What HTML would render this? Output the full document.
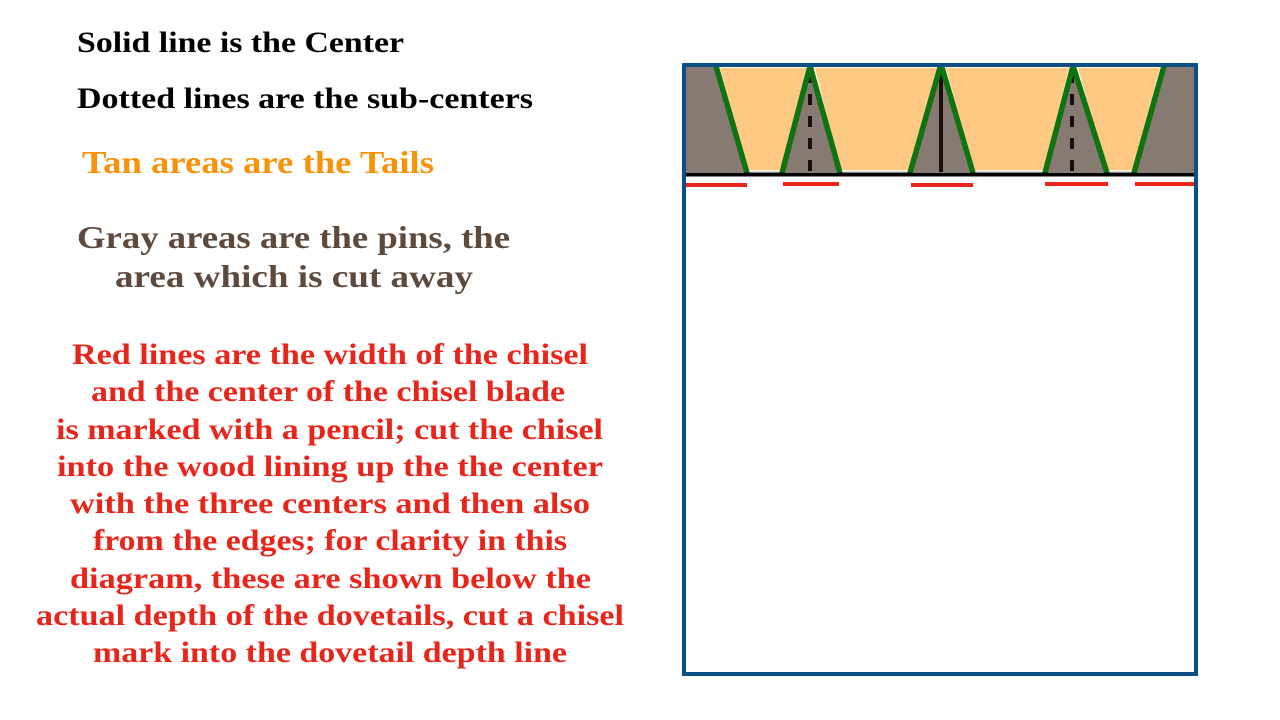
<!DOCTYPE html>
<html><head><style>html,body{margin:0;padding:0;background:#fff}svg{display:block}</style></head>
<body>
<svg width="1280" height="720" viewBox="0 0 1280 720" xmlns="http://www.w3.org/2000/svg">
<g font-family="Liberation Serif, DejaVu Serif, serif" font-weight="bold">
<text x="77" y="52" font-size="30" fill="#000" textLength="327" lengthAdjust="spacingAndGlyphs">Solid line is the Center</text>
<text x="77" y="108" font-size="30" fill="#000" textLength="456" lengthAdjust="spacingAndGlyphs">Dotted lines are the sub-centers</text>
<text x="82" y="173" font-size="32" fill="#f7930a" textLength="352" lengthAdjust="spacingAndGlyphs">Tan areas are the Tails</text>
<text x="77" y="248" font-size="32" fill="#5e4a3d" textLength="433" lengthAdjust="spacingAndGlyphs">Gray areas are the pins, the</text>
<text x="115" y="287" font-size="32" fill="#5e4a3d" textLength="358" lengthAdjust="spacingAndGlyphs">area which is cut away</text>
<g fill="#e8251a" font-size="30">
<text x="72" y="364" textLength="516" lengthAdjust="spacingAndGlyphs">Red lines are the width of the chisel</text>
<text x="91" y="401" textLength="474" lengthAdjust="spacingAndGlyphs">and the center of the chisel blade</text>
<text x="56" y="439" textLength="547" lengthAdjust="spacingAndGlyphs">is marked with a pencil; cut the chisel</text>
<text x="57" y="476" textLength="546" lengthAdjust="spacingAndGlyphs">into the wood lining up the the center</text>
<text x="70" y="513" textLength="520" lengthAdjust="spacingAndGlyphs">with the three centers and then also</text>
<text x="93" y="550" textLength="474" lengthAdjust="spacingAndGlyphs">from the edges; for clarity in this</text>
<text x="70" y="588" textLength="521" lengthAdjust="spacingAndGlyphs">diagram, these are shown below the</text>
<text x="36" y="625" textLength="588" lengthAdjust="spacingAndGlyphs">actual depth of the dovetails, cut a chisel</text>
<text x="93" y="662" textLength="474" lengthAdjust="spacingAndGlyphs">mark into the dovetail depth line</text>
</g>
</g>
<rect x="686" y="67" width="508" height="105" fill="#877a73"/>
<g fill="#fec983" stroke="#fff" stroke-width="1.5">
<polygon points="719,67 807,67 783,171 748,171"/>
<polygon points="814,67 938,67 909,171 840,171"/>
<polygon points="945,67 1070,67 1044,171 973,171"/>
<polygon points="1077,67 1161,67 1133,171 1106,171"/>
</g>
<g stroke="#1a0f0c" stroke-width="4">
<line x1="810" y1="72" x2="810" y2="172" stroke-dasharray="11,11"/>
<line x1="1072" y1="72" x2="1072" y2="172" stroke-dasharray="11,11"/>
<line x1="941" y1="64" x2="941" y2="172"/>
</g>
<g stroke="#0f730f" stroke-width="5.5" stroke-linecap="butt">
<line x1="716" y1="66" x2="747" y2="173"/>
<line x1="782" y1="173" x2="810" y2="66"/>
<line x1="810" y1="66" x2="840" y2="173"/>
<line x1="910" y1="173" x2="941" y2="64"/>
<line x1="941" y1="64" x2="973" y2="173"/>
<line x1="1045" y1="173" x2="1073" y2="66"/>
<line x1="1073" y1="66" x2="1107" y2="173"/>
<line x1="1134" y1="173" x2="1164" y2="66"/>
</g>
<line x1="683" y1="174.5" x2="1197" y2="174.5" stroke="#000" stroke-width="4"/>
<g stroke="#e8251a" stroke-width="4">
<line x1="685" y1="185" x2="747" y2="185"/>
<line x1="783" y1="184" x2="839" y2="184"/>
<line x1="911" y1="185" x2="973" y2="185"/>
<line x1="1045" y1="184" x2="1108" y2="184"/>
<line x1="1135" y1="184" x2="1195" y2="184"/>
</g>
<rect x="684" y="65" width="512" height="609" fill="none" stroke="#0b4f84" stroke-width="4"/>
</svg>
</body></html>
